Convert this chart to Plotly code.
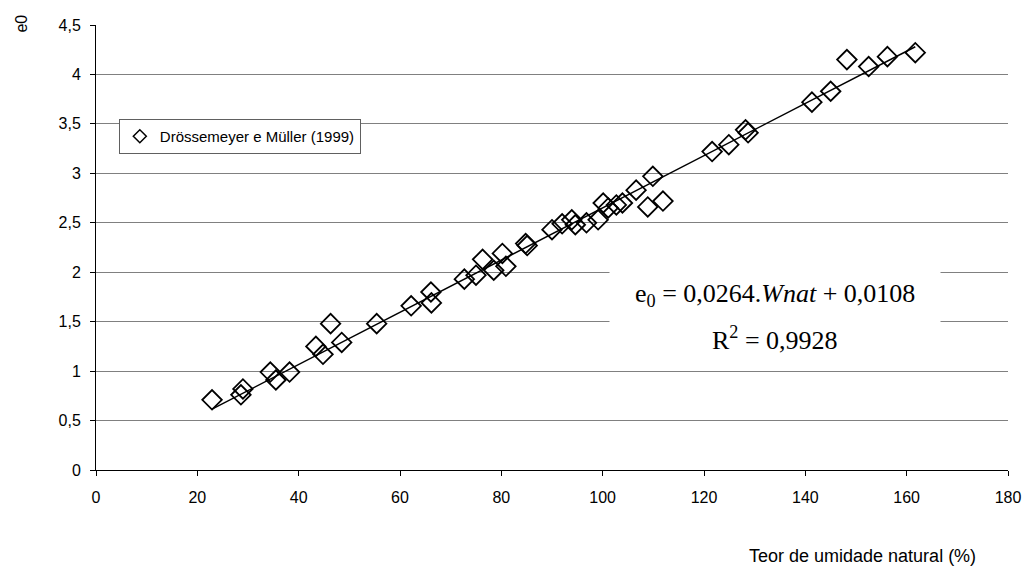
import plotly.graph_objects as go

# Natural water content (%) and initial void ratio e0
wnat = [22.9, 28.6, 29.0, 34.4, 35.5, 38.2, 43.4, 44.8, 46.3, 48.5, 55.4,
        62.2, 66.1, 66.2, 72.7, 75.0, 76.3, 78.5, 80.2, 80.9, 84.8, 85.1,
        90.0, 92.0, 93.9, 94.6, 96.8, 99.1, 100.1, 101.1, 102.7, 103.9,
        106.6, 108.9, 109.9, 111.9, 121.6, 124.9, 128.2, 128.7, 141.3,
        145.0, 148.2, 152.5, 156.2, 161.7]
e0 = [0.71, 0.76, 0.82, 0.99, 0.91, 0.99, 1.25, 1.17, 1.48, 1.29, 1.48,
      1.66, 1.80, 1.69, 1.93, 1.97, 2.13, 2.02, 2.19, 2.06, 2.29, 2.27,
      2.43, 2.49, 2.53, 2.48, 2.50, 2.53, 2.70, 2.65, 2.68, 2.70,
      2.83, 2.66, 2.97, 2.72, 3.22, 3.29, 3.44, 3.41, 3.72,
      3.83, 4.15, 4.08, 4.18, 4.22]

# Linear trend: e0 = slope * Wnat + intercept
slope = 0.0264
intercept = 0.0108
r2 = 0.9928

x_ticks = [0, 20, 40, 60, 80, 100, 120, 140, 160, 180]
y_ticks = [0, 0.5, 1, 1.5, 2, 2.5, 3, 3.5, 4, 4.5]
y_tick_labels = ["0", "0,5", "1", "1,5", "2", "2,5", "3", "3,5", "4", "4,5"]

series_name = "Drössemeyer e Müller (1999)"

trend_x = [min(wnat), max(wnat)]
trend_y = [slope * v + intercept for v in trend_x]


def comma(v):
    return str(v).replace(".", ",")


# plot area in pixels (for placing free text)
L, R, T, B = 96, 18, 25, 97
W, H = 1033, 567
PW, PH = W - L - R, H - T - B


def px(x):
    return (x - L) / PW


def py(y):
    return (H - B - y) / PH


fig = go.Figure()

fig.add_trace(go.Scatter(
    x=trend_x, y=trend_y, mode="lines",
    line=dict(color="black", width=1.5),
    showlegend=False, hoverinfo="skip",
))

fig.add_trace(go.Scatter(
    x=wnat, y=e0, mode="markers",
    marker=dict(symbol="diamond-open", size=15, color="black",
                line=dict(color="black", width=1.8)),
    showlegend=False, name=series_name,
))

# legend entry with a smaller symbol
fig.add_trace(go.Scatter(
    x=[None], y=[None], mode="markers", name=series_name,
    marker=dict(symbol="diamond-open", size=10, color="black",
                line=dict(color="black", width=1.5)),
))

font_sans = "Liberation Sans, Arial, sans-serif"
font_serif = "Liberation Serif, Times New Roman, serif"

fig.update_layout(
    width=W, height=H,
    margin=dict(l=L, r=R, t=T, b=B),
    paper_bgcolor="white", plot_bgcolor="white",
    font=dict(family=font_sans, size=16, color="black"),
    xaxis=dict(
        range=[0, 180], tickvals=x_ticks, ticks="outside", ticklen=5,
        tickcolor="black", showline=True, linecolor="black", linewidth=1,
        showgrid=False, zeroline=False, tickfont=dict(size=16),
        ticklabelstandoff=8,
    ),
    yaxis=dict(
        range=[0, 4.5], tickvals=y_ticks, ticktext=y_tick_labels,
        ticks="outside", ticklen=5, tickcolor="black", showline=True,
        linecolor="black", linewidth=1, showgrid=True, gridcolor="#808080",
        gridwidth=1, zeroline=False, tickfont=dict(size=16),
        ticklabelstandoff=6,
    ),
    legend=dict(
        x=px(119), y=py(119), xanchor="left", yanchor="top",
        bgcolor="white", bordercolor="#606060", borderwidth=1,
        font=dict(size=15, family=font_sans), itemwidth=30,
        tracegroupgap=0,
    ),
    showlegend=True,
)

# white panel behind the regression equation
fig.add_annotation(
    xref="paper", yref="paper", x=px(780), y=py(308),
    text=" ", width=330, height=112, bgcolor="white", borderpad=0,
    showarrow=False, xanchor="center", yanchor="middle",
)

fig.add_annotation(
    xref="paper", yref="paper", x=px(780), y=py(295),
    text=f"e<sub>0</sub> = {comma(slope)}.<i>Wnat</i> + {comma(intercept)}",
    showarrow=False, xanchor="center", yanchor="middle",
    font=dict(family=font_serif, size=26, color="black"),
)
fig.add_annotation(
    xref="paper", yref="paper", x=px(780), y=py(338),
    text=f"R<sup>2</sup> = {comma(r2)}",
    showarrow=False, xanchor="center", yanchor="middle",
    font=dict(family=font_serif, size=26, color="black"),
)

# axis titles
fig.add_annotation(
    xref="paper", yref="paper", x=px(21), y=py(24),
    text="e0", textangle=-90, showarrow=False,
    xanchor="center", yanchor="middle",
    font=dict(size=16, family=font_sans),
)
fig.add_annotation(
    xref="paper", yref="paper", x=px(868), y=py(556),
    text="Teor de umidade natural (%)", showarrow=False,
    xanchor="center", yanchor="middle",
    font=dict(size=18, family=font_sans),
)

fig.write_html("out.html")
